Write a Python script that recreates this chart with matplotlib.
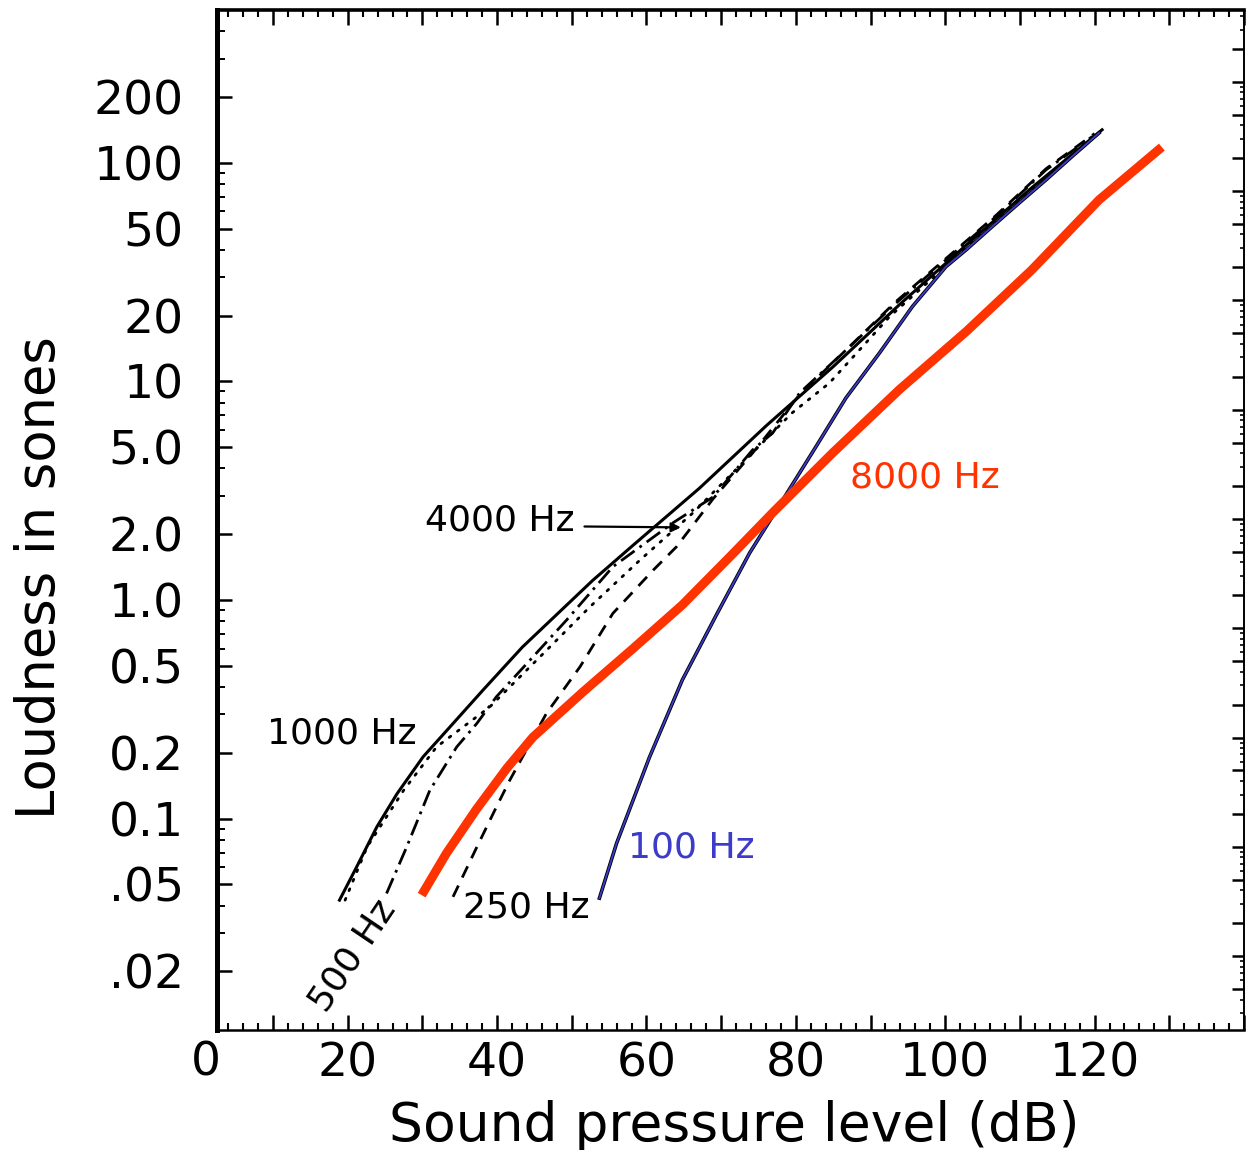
import matplotlib
matplotlib.use("Agg")
import matplotlib.pyplot as plt
from matplotlib.ticker import FixedLocator, LogLocator, MultipleLocator, FuncFormatter, NullFormatter

plt.rcParams['font.family'] = ['DejaVu Sans']

# ---- data ----
spl_1000 = [18.9, 21.2, 23.9, 26.6, 30.1, 33.7, 38.1, 43.4, 52.8, 58.2, 67.1, 76.1, 84.9, 93.9, 102.8, 111.6, 121.0]
son_1000 = [0.0424, 0.0602, 0.0917, 0.130, 0.192, 0.263, 0.387, 0.61, 1.23, 1.78, 3.25, 6.3, 11.6, 22.5, 42.0, 77.0, 141.6]

spl_4000 = [19.65, 22.6, 27.5, 31.9, 39.0, 45.7, 52.4, 59.1, 66.2, 79.5, 84.5, 88.9, 92.5, 102.8, 111.6, 120.6]
son_4000 = [0.0424, 0.0743, 0.135, 0.213, 0.324, 0.548, 0.929, 1.52, 2.50, 7.18, 9.84, 14.4, 19.7, 40.8, 75.2, 137.0]

spl_500 = [25.2, 27.9, 31.0, 34.6, 37.3, 39.9, 44.4, 49.3, 55.5, 63.5, 68.9, 74.2, 76.9, 80.5, 86.7, 93.4, 100.1, 106.8, 113.5, 119.7]
son_500 = [0.0455, 0.0743, 0.135, 0.213, 0.273, 0.361, 0.531, 0.81, 1.42, 2.25, 2.96, 4.86, 5.81, 8.86, 13.9, 22.8, 36.0, 56.8, 92.9, 132.0]

spl_250 = [34.1, 37.3, 39.9, 41.7, 46.6, 51.1, 55.5, 60.9, 64.0, 68.9, 74.2, 80.5, 86.7, 93.4, 100.1, 106.8, 113.5, 120.0]
son_250 = [0.0439, 0.0743, 0.113, 0.150, 0.303, 0.495, 0.869, 1.37, 1.75, 2.9, 4.7, 8.7, 13.9, 23.2, 36.5, 57.5, 94.0, 136.0]

spl_100 = [53.7, 56.0, 60.4, 64.8, 69.4, 73.8, 77.4, 82.8, 86.7, 91.2, 95.6, 100.1, 102.8, 106.3, 109.9, 113.5, 117.0, 120.6]
son_100 = [0.0433, 0.0772, 0.191, 0.431, 0.86, 1.64, 2.58, 5.1, 8.4, 13.5, 22.0, 33.5, 40.0, 51.1, 65.5, 83.6, 107.0, 137.0]

spl_8000 = [29.9, 33.2, 37.2, 41.3, 44.8, 51.5, 58.2, 64.8, 71.5, 77.1, 84.9, 93.9, 102.8, 111.6, 120.6, 129.0]
son_8000 = [0.0447, 0.0693, 0.110, 0.170, 0.236, 0.38, 0.60, 0.95, 1.62, 2.55, 4.7, 9.2, 16.9, 32.4, 67.7, 118.0]

y_major = [0.02, 0.05, 0.1, 0.2, 0.5, 1.0, 2.0, 5.0, 10, 20, 50, 100, 200]
y_labels = ['.02', '.05', '0.1', '0.2', '0.5', '1.0', '2.0', '5.0', '10', '20', '50', '100', '200']
x_labeled = [0, 20, 40, 60, 80, 100, 120]

RED = '#ff3300'
BLUE = '#3c3cc8'

fig = plt.figure(figsize=(12.46, 11.5), dpi=100)
W, H = 1246, 1150
ax = fig.add_axes([217 / W, 1 - 1030 / H, (1244 - 217) / W, (1030 - 10) / H])

ax.set_yscale('log')
ax.set_xlim(2.5, 140)
ax.set_ylim(0.0108, 500)

# curves
ax.plot(spl_1000, son_1000, color='black', lw=2.2, solid_joinstyle='round')
ax.plot(spl_4000, son_4000, color='black', lw=2.0, linestyle=(0, (0.7, 3.0)), dash_capstyle='round')
ax.plot(spl_500, son_500, color='black', lw=2.0, linestyle=(0, (6, 2.2, 1, 2.2)))
ax.plot(spl_250, son_250, color='black', lw=2.0, linestyle=(0, (4.5, 3.2)))
ax.plot(spl_100, son_100, color='black', lw=2.6, solid_joinstyle='round')
ax.plot(spl_100, son_100, color=BLUE, lw=1.3, solid_joinstyle='round')
ax.plot(spl_8000, son_8000, color=RED, lw=6.5, solid_capstyle='butt', solid_joinstyle='round')

# labels on curves
fs_lab = 26
ax.text(9.2, 0.246, '1000 Hz', fontsize=fs_lab, va='center', ha='left')
ax.text(30.3, 2.30, '4000 Hz', fontsize=fs_lab, va='center', ha='left')
ax.annotate('', xy=(64.6, 2.15), xytext=(51.7, 2.17),
            arrowprops=dict(arrowstyle='-|>', lw=1.6, color='black', mutation_scale=14,
                            shrinkA=0, shrinkB=0))
ax.text(35.4, 0.0394, '250 Hz', fontsize=fs_lab, va='center', ha='left')
ax.text(57.5, 0.0741, '100 Hz', fontsize=fs_lab, va='center', ha='left', color=BLUE)
ax.text(87.2, 3.65, '8000 Hz', fontsize=fs_lab, va='center', ha='left', color=RED)
ax.text(20.6, 0.0237, '500 Hz', fontsize=fs_lab, va='center', ha='center',
        rotation=56, rotation_mode='anchor')

# spines
ax.spines['left'].set_linewidth(3.6)
ax.spines['bottom'].set_linewidth(1.8)
ax.spines['top'].set_linewidth(2.6)
ax.spines['right'].set_linewidth(1.4)

# x ticks
ax.xaxis.set_major_locator(MultipleLocator(10))
ax.xaxis.set_minor_locator(MultipleLocator(2))
ax.xaxis.set_major_formatter(FuncFormatter(
    lambda v, p: (f'{int(round(v))}' if int(round(v)) in x_labeled else '')))
ax.tick_params(axis='x', which='major', direction='in', length=11, width=1.8,
               top=True, bottom=True, labelsize=34, pad=8)
ax.tick_params(axis='x', which='minor', direction='in', length=5, width=1.5,
               top=True, bottom=True)
ax.text(1.0, -11 / 1020, '0', transform=ax.get_xaxis_transform(), fontsize=34,
        ha='center', va='top', clip_on=False)

# y ticks
ax.yaxis.set_major_locator(FixedLocator(y_major))
ax.set_yticklabels(y_labels)
ax.yaxis.set_minor_locator(LogLocator(base=10, subs=(3, 4, 6, 7, 8, 9)))
ax.yaxis.set_minor_formatter(NullFormatter())
ax.tick_params(axis='y', which='major', direction='in', length=11, width=1.8,
               left=True, right=False, labelsize=34, pad=24)
ax.tick_params(axis='y', which='minor', direction='in', length=6, width=1.4,
               left=True, right=False)

# right-hand scale ticks (unlabelled, compressed log scale)
K = 1.81
tw = ax.twinx()
tw.set_yscale('log')
lo, hi = ax.get_ylim()
tw.set_ylim(K * lo ** 2, K * hi ** 2)
tw.yaxis.set_major_locator(LogLocator(base=10, subs=(1, 2, 5)))
tw.yaxis.set_minor_locator(LogLocator(base=10, subs=(3, 4, 6, 7, 8, 9)))
tw.yaxis.set_major_formatter(NullFormatter())
tw.yaxis.set_minor_formatter(NullFormatter())
tw.tick_params(axis='y', which='major', direction='in', length=9, width=1.8)
tw.tick_params(axis='y', which='minor', direction='in', length=3, width=1.2)
for s in tw.spines.values():
    s.set_visible(False)

# axis titles
fig.text(40 / W, 1 - 578 / H, 'Loudness in sones', rotation=90, fontsize=38,
         ha='center', va='center')
fig.text(734 / W, 1 - 1141 / H, 'Sound pressure level (dB)', fontsize=38.5,
         ha='center', va='baseline')

fig.savefig('out.png', dpi=100)
